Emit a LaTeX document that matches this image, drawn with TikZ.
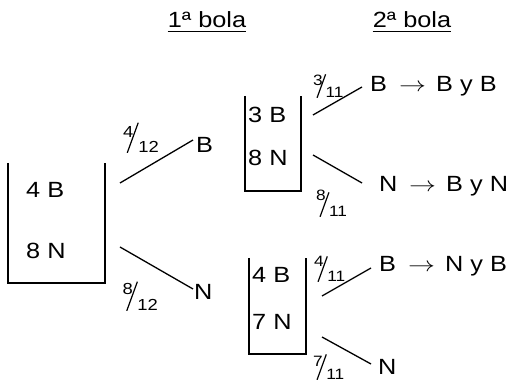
\documentclass[tikz,border=0pt]{standalone}
\usepackage{fontspec}
\setmainfont[FakeStretch=1.15]{Liberation Sans}
\usepackage{graphicx}
\newcommand{\frc}[5]{{\fontsize{#3}{#3}\selectfont\raisebox{#5}{#1}\kern-0.42em\rotatebox{70}{\rule{#4}{1.2pt}}\kern-0.5pt#2}}
\newcommand{\rarr}{\makebox[37pt][l]{\scalebox{1.3}[1]{$\rightarrow$}}}
\begin{document}
\begin{tikzpicture}[x=1pt,y=-1pt,
  txt/.style={inner sep=0pt, anchor=base west, font=\fontsize{22}{26}\selectfont},
  frac/.style={inner sep=0pt, anchor=base west},
  ln/.style={line width=1.3pt},
  urn/.style={line width=1.3pt}]
\useasboundingbox (0,0) rectangle (507,382);
% headers
\node[txt, anchor=base] (h1) at (207,28) {1ª bola};
\node[txt, anchor=base] (h2) at (412,28) {2ª bola};
\draw[line width=1.3pt] ([yshift=-3.5pt]h1.base west) -- ([yshift=-3.5pt]h1.base east);
\draw[line width=1.3pt] ([yshift=-3.5pt]h2.base west) -- ([yshift=-3.5pt]h2.base east);
% left urn
\draw[urn] (8,163) -- (8,283) -- (105,283) -- (105,163);
\node[txt] (u0b) at (26,198) {4 B};
\node[txt] (u0n) at (26,259) {8 N};
% first draw
\node[txt] (B1) at (196,153) {B};
\node[txt] (N1) at (194,300) {N};
\coordinate (a1) at (120,183); \coordinate (a2) at (193,140);
\coordinate (a3) at (120,247); \coordinate (a4) at (193,289);
\draw[ln] (a1) -- (a2);
\draw[ln] (a3) -- (a4);
\node[frac] (f1) at (123,153) {\frc{4}{12}{16}{32pt}{15pt}};
\node[frac] (f2) at (122.5,311) {\frc{8}{12}{16}{31pt}{16pt}};
% top middle urn
\draw[urn] (245,96) -- (245,191) -- (301,191) -- (301,96);
\node[txt] (u1b) at (248,123) {3 B};
\node[txt] (u1n) at (248,166) {8 N};
\coordinate (c1) at (313,115); \coordinate (c2) at (362,87);
\coordinate (c3) at (313,155); \coordinate (c4) at (362,183);
\draw[ln] (c1) -- (c2);
\draw[ln] (c3) -- (c4);
\node[txt] (B2) at (370,92) {B};
\node[txt] (r1) at (399,92) {\rarr B y B};
\node[txt] (N2) at (379,192) {N};
\node[txt] (r2) at (409,192) {\rarr B y N};
\node[frac] (f3) at (313,98) {\frc{3}{11}{15}{25pt}{12.5pt}};
\node[frac] (f4) at (316,217) {\frc{8}{11}{15}{26pt}{16pt}};
% bottom middle urn
\draw[urn] (249,258) -- (249,354) -- (306,354) -- (306,258);
\node[txt] (u2b) at (252,283) {4 B};
\node[txt] (u2n) at (252,330) {7 N};
\coordinate (d1) at (322,296); \coordinate (d2) at (371,268);
\coordinate (d3) at (322,337); \coordinate (d4) at (371,364);
\draw[ln] (d1) -- (d2);
\draw[ln] (d3) -- (d4);
\node[txt] (B3) at (379,272) {B};
\node[txt] (r3) at (408,272) {\rarr N y B};
\node[txt] (N3) at (378,375) {N};
\node[frac] (f5) at (314,282) {\frc{4}{11}{15}{27pt}{15pt}};
\node[frac] (f6) at (313,380) {\frc{7}{11}{15}{27pt}{13pt}};
\end{tikzpicture}
\end{document}
